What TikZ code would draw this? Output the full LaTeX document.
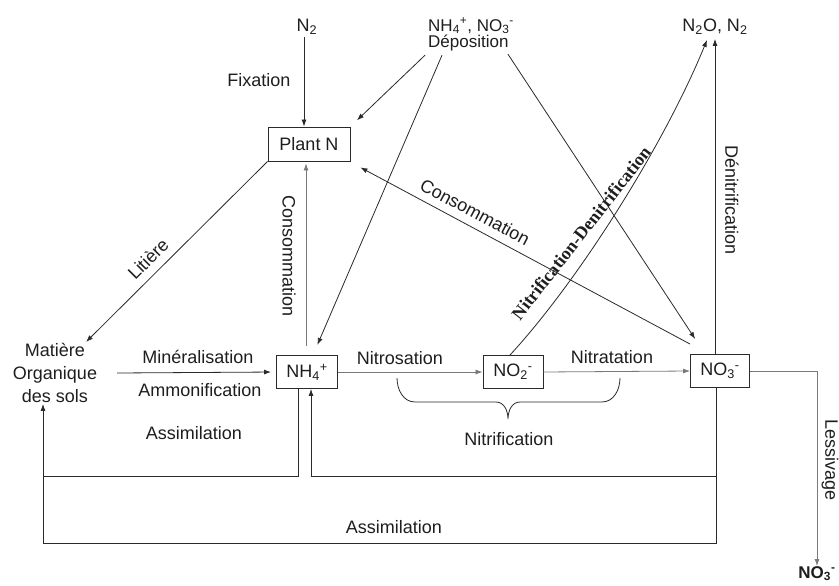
\documentclass[tikz,border=0pt]{standalone}
\usepackage{fontspec}
\setmainfont{Liberation Sans}
\newfontfamily\serifnd{Liberation Serif}
\usetikzlibrary{arrows.meta,calc}
\definecolor{txt}{HTML}{1E1E1E}
\definecolor{ln}{HTML}{2A2A2A}
\definecolor{lg}{HTML}{7A7A7A}
\begin{document}
\begin{tikzpicture}[x=1pt,y=-1pt,
  every node/.style={text=txt, font=\fontsize{18}{23}\selectfont},
  box/.style={draw=ln, line width=0.9pt, inner sep=0pt},
  lbl/.style={inner sep=0pt},
  conn/.style={draw=ln, line width=0.8pt},
  arr/.style={conn, -{Latex[length=7pt,width=5pt]}},
  garr/.style={arr, draw=lg},
]
\useasboundingbox[fill=white] (0,0) rectangle (839,586);

% main nodes
\node[box, minimum width=82pt, minimum height=34pt] (plant) at (309,144) {Plant N};
\node[box, minimum width=61pt, minimum height=33pt] (nh4) at (307,372) {NH\textsubscript{4}\textsuperscript{+}};
\node[box, minimum width=60pt, minimum height=33pt] (no2) at (513,372) {NO\textsubscript{2}\textsuperscript{-}};
\node[box, minimum width=59pt, minimum height=33pt] (no3) at (720,371) {NO\textsubscript{3}\textsuperscript{-}};
\node[lbl] (n2) at (307,27) {N\textsubscript{2}};
\node[lbl, anchor=west, font=\fontsize{17}{20}\selectfont] (dep) at (428,26) {NH\textsubscript{4}\textsuperscript{+}, NO\textsubscript{3}\textsuperscript{-}};
\node[lbl, anchor=west, font=\fontsize{17}{20}\selectfont] (depo) at (428,43) {Déposition};
\node[lbl] (n2o) at (715,27) {N\textsubscript{2}O, N\textsubscript{2}};
\node[lbl, align=center] (mos) at (55,373) {Matière\\Organique\\des sols};
\node[lbl, anchor=north, font=\fontsize{17}{20}\selectfont\bfseries] (nobot) at (817,566) {NO\textsubscript{3}\textsuperscript{-}};

% labels
\node[lbl] at (259,80) {Fixation};
\node[lbl, rotate=45] at (148,259) {Litière};
\node[lbl, rotate=-90] at (289,256) {Consommation};
\node[lbl, rotate=-28] at (475,212) {Consommation};
\node[lbl] at (198,357) {Minéralisation};
\node[lbl] at (200,390) {Ammonification};
\node[lbl] at (194,433) {Assimilation};
\node[lbl] at (400,358) {Nitrosation};
\node[lbl] at (612,357) {Nitratation};
\node[lbl] at (509,439) {Nitrification};
\node[lbl, rotate=-90] at (732,200) {Dénitrification};
\node[lbl] at (394,527) {Assimilation};
\node[lbl, rotate=-90] at (830,460) {Lessivage};
\node[lbl, rotate=52, font=\serifnd\bfseries\fontsize{18}{20}\selectfont] at (581,233) {Nitrification-Denitrification};

% helper coordinates
\coordinate (mosin) at (86,342);
\coordinate (la) at (43,476);
\coordinate (lb) at (43,543);
\coordinate (ra) at (716,476);

% connectors
\draw[arr, shorten <=2pt] ($(n2.south)+(-3,0)$) -- ($(n2.south |- plant.north)+(-3,0)$);
\draw[arr, shorten >=9pt] ($(depo.south west)+(-3,4)$) -- (plant.north east);
\draw[arr, shorten >=11pt] ($(depo.south west)+(14,4)$) -- ($(nh4.north)+(6,0)$);
\draw[arr, shorten >=18pt] ($(depo.south west)+(80,3)$) -- ($(no3.north west)+(15,0)$);
\draw[arr] ($(no3.north west)+(0,-10)$) -- ($(plant.south east)+(10,6)$);
\draw[garr] ($(nh4.north)+(-1,-9)$) -- ($(nh4.north |- plant.south)+(-1,2)$);
\draw[arr] (plant.south west) -- (mosin);
\draw[arr, shorten >=5pt] ($(mos.east)+(20,0)$) -- (nh4.west);
\draw[garr] (nh4.east) -- (no2.west);
\draw[garr] (no2.east) -- (no3.west);
\draw[arr] ($(no2.north)+(-3,0)$) .. controls (580,279) and (665,143) .. ($(n2o.south)+(-8,5)$);
\draw[arr] ($(no3.north)+(-5,0)$) -- ($(no3.north |- n2o.south)+(-5,4)$);

% assimilation loops
\draw[conn] ($(nh4.south)+(-9,0)$) |- (la);
\draw[arr] (lb) -- ($(mos.south)+(-12,1)$);
\draw[conn] ($(no3.south)+(-4,0)$) |- (lb);
\draw[arr] (ra) -| ($(nh4.south)+(4,0)$);

% lessivage
\draw[garr] (no3.east) -| (nobot.north);

% nitrification brace
\draw[conn] (397,378) to[out=-90,in=180] (415,402) -- (496,402) to[out=0,in=90] (508,419)
            to[out=90,in=180] (520,402) -- (602,402) to[out=0,in=-90] (620,378);
\end{tikzpicture}
\end{document}
